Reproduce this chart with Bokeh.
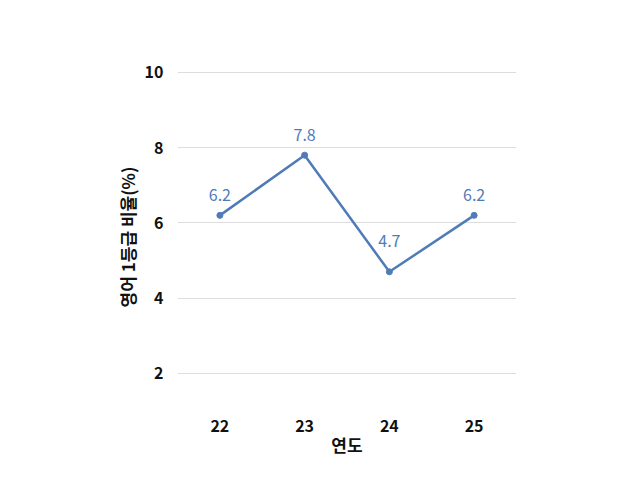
from bokeh.plotting import figure, ColumnDataSource
from bokeh.models import Range1d, FixedTicker
from bokeh.core.properties import value
from bokeh.embed import file_html
from bokeh.resources import INLINE

years = ["22", "23", "24", "25"]
ratios = [6.2, 7.8, 4.7, 6.2]
y_ticks = [2, 4, 6, 8, 10]

FONT = "Noto Sans CJK KR"
BLUE = "#4f7cb8"

# labels of a dip sit a little higher, clear of the line
offsets = []
for i, v in enumerate(ratios):
    dip = 0 < i < len(ratios) - 1 and v < ratios[i - 1] and v < ratios[i + 1]
    offsets.append(-25 if dip else -14)

src = ColumnDataSource(data=dict(
    year=years,
    ratio=ratios,
    label=[str(v) for v in ratios],
    off=offsets,
))

p = figure(x_range=years, y_range=Range1d(1.2, 10.05), width=624, height=468,
           output_backend="svg", toolbar_location=None,
           min_border_left=177, min_border_right=108,
           min_border_top=70, min_border_bottom=65)

p.line("year", "ratio", source=src, line_color=BLUE, line_width=2.5)
p.scatter("year", "ratio", source=src, size=6, color=BLUE)
p.text("year", "ratio", text="label", source=src, y_offset="off",
       text_align="center", text_baseline="bottom", text_color=BLUE,
       text_font=value(FONT), text_font_size="16px")

p.outline_line_color = None
p.xgrid.grid_line_color = None
p.ygrid.grid_line_color = "#dddddd"
p.yaxis.ticker = FixedTicker(ticks=y_ticks)

for ax in (p.xaxis[0], p.yaxis[0]):
    ax.axis_line_color = None
    ax.major_tick_line_color = None
    ax.minor_tick_line_color = None
    ax.major_label_text_font = FONT
    ax.major_label_text_font_size = "16px"
    ax.major_label_text_font_style = "bold"
    ax.major_label_text_color = "#111111"
    ax.axis_label_text_font = FONT
    ax.axis_label_text_font_size = "17px"
    ax.axis_label_text_font_style = "bold"
    ax.axis_label_text_color = "#111111"

p.xaxis.axis_label = "연도"
p.yaxis.axis_label = "영어 1등급 비율(%)"
p.yaxis.major_label_standoff = 8
p.xaxis.major_label_standoff = 10
p.xaxis.axis_label_standoff = -3
p.yaxis.axis_label_standoff = 2

open("out.html", "w").write(file_html(p, INLINE))
